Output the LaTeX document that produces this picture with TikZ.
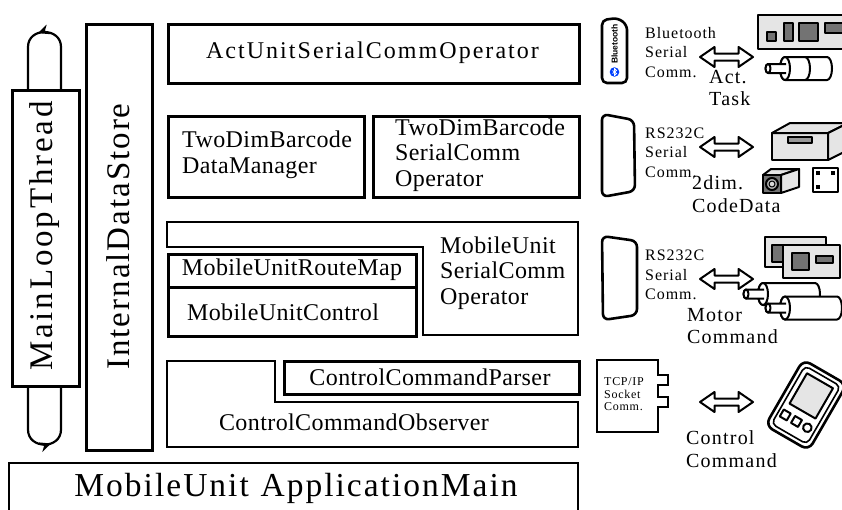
\documentclass[tikz,border=0pt]{standalone}
\usepackage{fontspec}
\setmainfont{Liberation Serif}
\setsansfont{Liberation Sans}
\newfontfamily\lblfont[LetterSpace=1.7]{Liberation Serif}
\newfontfamily\actfont[LetterSpace=8.5]{Liberation Serif}
\newfontfamily\widefont[LetterSpace=6]{Liberation Serif}
\newfontfamily\widerfont[LetterSpace=8.5]{Liberation Serif}
\usetikzlibrary{arrows.meta,decorations.markings}

\begin{document}
\begin{tikzpicture}[x=1pt,y=-1pt,
  box/.style={draw=black, line width=2.6pt, inner sep=0pt},
  boxline/.style={draw=black, line width=2.6pt, line join=miter},
  lbl/.style={font=\lblfont\fontsize{24}{25.5}\selectfont, inner sep=0pt, align=left},
  big/.style={font=\widefont\fontsize{33}{35}\selectfont, inner sep=0pt},
  side/.style={font=\widefont\fontsize{16}{19.5}\selectfont, inner sep=0pt, align=left},
  mid/.style={font=\widefont\fontsize{20}{22.5}\selectfont, inner sep=0pt, align=left},
  tiny/.style={font=\widefont\fontsize{12}{12.5}\selectfont, inner sep=0pt, align=left},
  dev/.style={draw=black, line width=2pt, line join=round},
  lightfill/.style={fill=black!10},
  darkfill/.style={fill=black!55},
  midfill/.style={fill=black!40},
  loopline/.style={draw=black, line width=2.2pt, postaction={decorate},
    decoration={markings, mark=at position 0.55 with {\arrow{Stealth[length=11pt,width=10pt]}}}},
  pics/dblarrow/.style={code={
    \draw[dev, fill=white] (-26.5,0) -- (-12,-10) -- (-12,-3.5) -- (12,-3.5) -- (12,-10)
      -- (26.5,0) -- (12,10) -- (12,3.5) -- (-12,3.5) -- (-12,10) -- cycle;}},
  pics/motor/.style args={#1/#2}{code={
    % body: top line, rear half-ellipse, bottom line, front half-ellipse
    \draw[dev, fill=white] (0,-#2) -- (#1,-#2)
      arc[start angle=90, end angle=-90, x radius=5pt, y radius=#2 pt]
      -- (0,#2) arc[start angle=-90, end angle=-270, x radius=5pt, y radius=#2 pt] -- cycle;
    \draw[dev, fill=white] (0,0) ellipse[x radius=5pt, y radius=#2 pt];
    % shaft
    \draw[dev, fill=white] (1,-4.5) -- (-17,-4.5)
      arc[start angle=90, end angle=270, x radius=2.5pt, y radius=4.5pt] -- (1,4.5);
    \draw[dev, fill=white] (-17,0) ellipse[x radius=2.5pt, y radius=4.5pt];}},
]
\useasboundingbox (0,0) rectangle (842,509);

% ---- left column: loop thread and data store ----
\node[box, anchor=north west, minimum width=67pt, minimum height=296pt] (mltbox) at (11,89) {};
\node[big, font=\widerfont\fontsize{33}{35}\selectfont, rotate=90] (mlt) at (44.5,236) {MainLoopThread};
\draw[loopline] ([xshift=50pt]mltbox.north west)
  -- ([xshift=50pt,yshift=42pt]mltbox.north west)
  .. controls ([xshift=50pt,yshift=62pt]mltbox.north west) and ([xshift=17pt,yshift=62pt]mltbox.north west)
  .. ([xshift=17pt,yshift=42pt]mltbox.north west)
  -- ([xshift=17pt]mltbox.north west);
\draw[loopline] ([xshift=17pt]mltbox.south west)
  -- ([xshift=17pt,yshift=-42pt]mltbox.south west)
  .. controls ([xshift=17pt,yshift=-62pt]mltbox.south west) and ([xshift=50pt,yshift=-62pt]mltbox.south west)
  .. ([xshift=50pt,yshift=-42pt]mltbox.south west)
  -- ([xshift=50pt]mltbox.south west);

\node[box, anchor=north west, minimum width=66pt, minimum height=426pt] (idsbox) at (85,23) {};
\node[big, rotate=90] (ids) at (118,236.5) {InternalDataStore};

% ---- application main ----
\draw[boxline] (9,520) |- (578,463) -- (578,520);
\node[big, font=\widefont\fontsize{33.5}{35}\selectfont] (appmain) at (296,488) {MobileUnit\hspace{0.35em}ApplicationMain};

% ---- component boxes ----
\node[box, anchor=north west, minimum width=411pt, minimum height=59pt] (act) at (167,23) {};
\node[lbl, font=\actfont\fontsize{24}{25.5}\selectfont] (actlbl) at (372.5,52.5) {ActUnitSerialCommOperator};

\node[box, anchor=north west, minimum width=196pt, minimum height=81pt] (tddm) at (167,115) {};
\node[lbl, anchor=west] (tddmlbl) at (182,155) {TwoDimBarcode\\DataManager};

\node[box, anchor=north west, minimum width=206pt, minimum height=81pt] (tdsc) at (372,115) {};
\node[lbl, anchor=west] (tdsclbl) at (395,155) {TwoDimBarcode\\SerialComm\\Operator};

\draw[boxline] (167,222) -- (578,222) -- (578,335) -- (423,335) -- (423,247) -- (167,247) -- cycle;
\node[lbl, anchor=west] (musclbl) at (440,273) {MobileUnit\\SerialComm\\Operator};

\node[box, anchor=north west, minimum width=248pt, minimum height=33pt] (route) at (167,253) {};
\node[lbl] (routelbl) at (292,270) {MobileUnitRouteMap};
\node[box, anchor=north west, minimum width=248pt, minimum height=49pt] (ctrl) at (167,286) {};
\node[lbl] (ctrllbl) at (283,312) {MobileUnitControl};

\node[box, anchor=north west, minimum width=295pt, minimum height=33pt] (parser) at (283,360) {};
\node[lbl] (parserlbl) at (430,377) {ControlCommandParser};
\draw[boxline] (167,361) -- (275,361) -- (275,402) -- (578,402) -- (578,447) -- (167,447) -- cycle;
\node[lbl] (obslbl) at (354,422) {ControlCommandObserver};

% ---- row 1: bluetooth link to actuator unit ----
\draw[dev, line width=2.6pt, fill=white, rounded corners=5pt]
  (602,20) -- (618,18) -- (627,25) -- (627,83) -- (602,83) -- cycle;
\node[rotate=90, inner sep=0pt, font=\sffamily\bfseries\fontsize{8.5}{8.5}\selectfont] (bttext) at (614.5,44) {Bluetooth};
\fill[blue!75!cyan] (614.5,72) circle[radius=4.8pt];
\draw[white, line width=0.8pt] (612.5,70.5) -- (616.5,73.5) -- (614.5,75.5) -- (614.5,68.5) -- (616.5,70.5) -- (612.5,73.5);
\node[side, anchor=west] (bt) at (645,52.5) {Bluetooth\\Serial\\Comm.};
\pic at (726.5,57) {dblarrow};
\node[mid, anchor=west] (acttask) at (709,88) {Act.\\Task};
\draw[dev, lightfill] (758,15) rectangle (850,49);
\draw[dev, darkfill] (767,32) rectangle (776,41);
\draw[dev, darkfill] (784,23) rectangle (793,41);
\draw[dev, darkfill] (799,23) rectangle (818,41);
\draw[dev, darkfill] (825,23) rectangle (850,33);
\pic at (785,68.5) {motor=42/11.5};
\draw[dev] (805,57) arc[start angle=90, end angle=-90, x radius=5pt, y radius=11.5pt];

% ---- row 2: RS232C link to 2D code reader ----
\draw[dev, line width=2.6pt, fill=white, rounded corners=6pt]
  (602,114) -- (634,120) -- (635,191) -- (602,197) -- cycle;
\node[side, anchor=west] (rs1) at (645,152.5) {RS232C\\Serial\\Comm.};
\pic at (726.5,147) {dblarrow};
\node[mid, anchor=west] (code) at (692,194) {2dim.\\CodeData};
\draw[dev, lightfill] (772,133) rectangle (828,160);
\draw[dev, lightfill] (772,133) -- (790,123) -- (848,123) -- (828,133) -- cycle;
\draw[dev, lightfill] (828,133) -- (848,123) -- (848,150) -- (828,160) -- cycle;
\draw[dev, midfill] (788,137) rectangle (812,143);
\draw[dev, lightfill] (763,175) -- (771,169) -- (799,169) -- (781,175) -- cycle;
\draw[dev, lightfill] (781,175) -- (799,169) -- (799,187) -- (781,193) -- cycle;
\draw[dev, darkfill] (763,175) rectangle (781,193);
\draw[dev, fill=black!30] (772,184) circle[radius=6pt];
\draw[dev, line width=1pt, fill=black!15] (772,184) circle[radius=3pt];
\draw[dev, fill=white] (813,168) rectangle (838,192);
\fill (816,171) rectangle (820,175);
\fill (831,171) rectangle (835,175);
\fill (816,185) rectangle (820,189);

% ---- row 3: RS232C link to motor drivers ----
\draw[dev, line width=2.6pt, fill=white, rounded corners=6pt]
  (602,236) -- (637,241) -- (637,315) -- (603,320) -- cycle;
\node[side, anchor=west] (rs2) at (645,275) {RS232C\\Serial\\Comm.};
\pic at (726.5,279) {dblarrow};
\node[mid, anchor=west] (motorcmd) at (687,326) {Motor\\Command};
\draw[dev, lightfill] (765,237) rectangle (826,267);
\draw[dev, darkfill] (772,245) rectangle (790,262);
\draw[dev, lightfill] (783,245) rectangle (840,278);
\draw[dev, darkfill] (792,253) rectangle (809,270);
\draw[dev, darkfill] (816,256) rectangle (833,263);
\pic at (763,294) {motor=52/11};
\pic at (785,308) {motor=52/11.5};

% ---- row 4: TCP/IP link to handheld terminal ----
\draw[dev, line width=2.4pt, fill=white, line join=miter]
  (597,360) -- (658,360) -- (658,375) -- (668,375) -- (668,385) -- (658,385)
  -- (658,397) -- (668,397) -- (668,407) -- (658,407) -- (658,432) -- (597,432) -- cycle;
\node[tiny, anchor=west] (tcp) at (604,394.5) {TCP/IP\\Socket\\Comm.};
\pic at (726.5,402) {dblarrow};
\node[mid, anchor=west] (ctrlcmd) at (686,449) {Control\\Command};
\begin{scope}[shift={(806,405)}, rotate=-30]
  \draw[dev, line width=2.6pt, fill=white, rounded corners=8pt] (-25,-38) rectangle (25,38);
  \draw[dev, line width=1.6pt, rounded corners=5pt] (-20.5,-33.5) rectangle (20.5,33.5);
  \draw[dev, fill=black!10] (-15,-28) rectangle (15,7);
  \draw[dev] (-17,15) rectangle (-9,23);
  \draw[dev] (-4,15) rectangle (4,23);
  \draw[dev] (12.5,19) circle[radius=4.3pt];
\end{scope}
\end{tikzpicture}
\end{document}
